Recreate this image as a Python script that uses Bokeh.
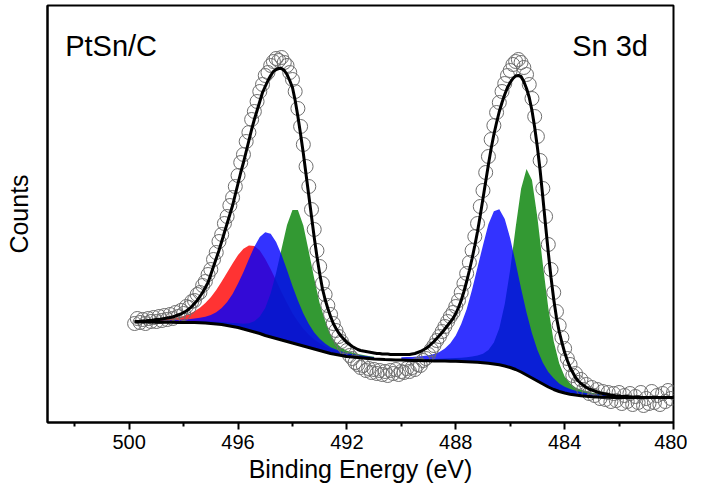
from bokeh.plotting import figure
from bokeh.models import Range1d, FixedTicker, Label
from bokeh.embed import file_html
from bokeh.resources import INLINE

# ---------------- data (binding energy in eV, intensity in arbitrary counts) ----------------
MAJOR_TICKS = [500, 496, 492, 488, 484, 480]
MINOR_TICKS = [502, 498, 494, 490, 486, 482]

# measured points grid (0.1 eV)
BE_FINE = [
    499.8, 499.7, 499.6, 499.5, 499.4, 499.3, 499.2, 499.1, 499.0, 498.9,
    498.8, 498.7, 498.6, 498.5, 498.4, 498.3, 498.2, 498.1, 498.0, 497.9,
    497.8, 497.7, 497.6, 497.5, 497.4, 497.3, 497.2, 497.1, 497.0, 496.9,
    496.8, 496.7, 496.6, 496.5, 496.4, 496.3, 496.2, 496.1, 496.0, 495.9,
    495.8, 495.7, 495.6, 495.5, 495.4, 495.3, 495.2, 495.1, 495.0, 494.9,
    494.8, 494.7, 494.6, 494.5, 494.4, 494.3, 494.2, 494.1, 494.0, 493.9,
    493.8, 493.7, 493.6, 493.5, 493.4, 493.3, 493.2, 493.1, 493.0, 492.9,
    492.8, 492.7, 492.6, 492.5, 492.4, 492.3, 492.2, 492.1, 492.0, 491.9,
    491.8, 491.7, 491.6, 491.5, 491.4, 491.3, 491.2, 491.1, 491.0, 490.9,
    490.8, 490.7, 490.6, 490.5, 490.4, 490.3, 490.2, 490.1, 490.0, 489.9,
    489.8, 489.7, 489.6, 489.5, 489.4, 489.3, 489.2, 489.1, 489.0, 488.9,
    488.8, 488.7, 488.6, 488.5, 488.4, 488.3, 488.2, 488.1, 488.0, 487.9,
    487.8, 487.7, 487.6, 487.5, 487.4, 487.3, 487.2, 487.1, 487.0, 486.9,
    486.8, 486.7, 486.6, 486.5, 486.4, 486.3, 486.2, 486.1, 486.0, 485.9,
    485.8, 485.7, 485.6, 485.5, 485.4, 485.3, 485.2, 485.1, 485.0, 484.9,
    484.8, 484.7, 484.6, 484.5, 484.4, 484.3, 484.2, 484.1, 484.0, 483.9,
    483.8, 483.7, 483.6, 483.5, 483.4, 483.3, 483.2, 483.1, 483.0, 482.9,
    482.8, 482.7, 482.6, 482.5, 482.4, 482.3, 482.2, 482.1, 482.0, 481.9,
    481.8, 481.7, 481.6, 481.5, 481.4, 481.3, 481.2, 481.1, 481.0, 480.9,
    480.8, 480.7, 480.6, 480.5, 480.4, 480.3, 480.2, 480.1, 480.0,
]

# raw data (open circles)
COUNTS = [
    99, 104, 100, 103, 99, 104, 101, 105, 101, 106,
    102, 107, 103, 108, 104, 110, 106, 112, 109, 116,
    115, 121, 122, 128, 130, 137, 141, 148, 153, 163,
    170, 181, 188, 199, 206, 217, 225, 236, 247, 260,
    268, 281, 290, 303, 311, 321, 331, 338, 347, 350,
    357, 361, 364, 362, 365, 360, 357, 350, 343, 331,
    314, 296, 278, 256, 236, 213, 193, 172, 156, 139,
    128, 117, 108, 99, 92, 86, 81, 76, 72, 67,
    64, 60, 58, 55, 57, 52, 54, 50, 53, 49,
    52, 48, 51, 47, 52, 49, 53, 48, 51, 50,
    54, 51, 55, 53, 58, 57, 62, 64, 68, 73,
    77, 82, 86, 91, 96, 101, 106, 110, 116, 122,
    130, 139, 149, 160, 172, 186, 199, 216, 232, 250,
    266, 283, 297, 310, 320, 331, 339, 347, 352, 358,
    361, 363, 360, 355, 348, 338, 324, 306, 286, 262,
    234, 206, 178, 153, 130, 111, 97, 85, 74, 64,
    58, 47, 49, 40, 43, 33, 38, 29, 35, 27,
    33, 24, 31, 23, 30, 21, 29, 22, 30, 19,
    27, 21, 29, 18, 26, 20, 30, 17, 24, 19,
    31, 20, 27, 18, 29, 21, 32, 24, 30,
]

# fitted envelope (black line)
ENVELOPE = [
    101, 101, 101, 101.5, 101.5, 102, 102, 102.5, 103, 103,
    103.5, 104, 104.5, 105, 105.5, 106.5, 107.5, 108.5, 110, 111.5,
    113.5, 116, 119, 122, 126, 130, 135, 140, 148, 156,
    164, 172, 181, 190, 199, 208, 217, 228, 239, 250,
    260, 271, 282, 293, 303, 312, 321, 330, 336, 342,
    347, 351, 353, 354, 354, 352, 348, 342, 335, 322,
    306, 288, 269, 248, 227, 206, 185, 166, 149, 134,
    123, 114, 106, 99, 94, 89.5, 86, 83, 80, 78,
    76, 74.5, 73, 72, 71.5, 71, 70.5, 70, 69.5, 69,
    69, 68.5, 68.5, 68.5, 68, 68, 68, 68, 68, 68,
    68, 68, 68.5, 69, 70, 71, 72.5, 74, 76, 78.5,
    81, 84, 87, 90, 93.5, 97, 100.5, 104, 109, 115,
    122, 131, 141, 152, 164, 177, 191, 207, 224, 241,
    258, 274, 288, 300, 311, 320, 328, 335, 340, 344,
    346.5, 347, 346, 341, 334, 325, 312, 295, 275, 252,
    225, 197, 170, 145, 123, 105, 91, 80, 70, 62,
    55, 50, 45, 41.5, 39, 37, 35, 33.5, 32.5, 31.5,
    30.5, 29.5, 29, 28.5, 28, 27.5, 27, 26.5, 26.5, 26,
    26, 26, 25.5, 25.5, 25.5, 25.5, 25, 25, 25, 25,
    25, 25, 25, 25, 25, 25, 25, 25, 25,
]

# background / component grid (0.2 eV)
BE_COARSE = [
    499.8, 499.6, 499.4, 499.2, 499.0, 498.8, 498.6, 498.4, 498.2, 498.0,
    497.8, 497.6, 497.4, 497.2, 497.0, 496.8, 496.6, 496.4, 496.2, 496.0,
    495.8, 495.6, 495.4, 495.2, 495.0, 494.8, 494.6, 494.4, 494.2, 494.0,
    493.8, 493.6, 493.4, 493.2, 493.0, 492.8, 492.6, 492.4, 492.2, 492.0,
    491.8, 491.6, 491.4, 491.2, 491.0, 490.8, 490.6, 490.4, 490.2, 490.0,
    489.8, 489.6, 489.4, 489.2, 489.0, 488.8, 488.6, 488.4, 488.2, 488.0,
    487.8, 487.6, 487.4, 487.2, 487.0, 486.8, 486.6, 486.4, 486.2, 486.0,
    485.8, 485.6, 485.4, 485.2, 485.0, 484.8, 484.6, 484.4, 484.2, 484.0,
    483.8, 483.6, 483.4, 483.2, 483.0, 482.8, 482.6, 482.4, 482.2, 482.0,
    481.8, 481.6, 481.4, 481.2, 481.0, 480.8, 480.6, 480.4, 480.2, 480.0,
]

# Shirley-type background
BACKGROUND = [
    100.5, 100.5, 100.4, 100.4, 100.3, 100.3, 100.2, 100.2, 100.1, 100.1,
    100, 100, 99.8, 99.5, 99, 98.5, 98, 97, 96, 95,
    93.5, 92, 90.5, 89, 87, 85.5, 84, 82.5, 81, 79.5,
    78, 76.5, 75, 73.5, 72, 70.5, 69, 68, 67, 66,
    65.5, 65, 64.5, 64, 63.5, 63.3, 63, 62.8, 62.6, 62.4,
    62.2, 62, 61.9, 61.8, 61.7, 61.6, 61.5, 61.4, 61.3, 61.2,
    61, 60.8, 60.5, 60.2, 59.8, 59.3, 58.6, 57.7, 56.5, 55,
    53, 50.5, 47.5, 44.5, 41.5, 38.5, 35.5, 33, 31, 29.5,
    28.3, 27.4, 26.7, 26.2, 25.8, 25.5, 25.3, 25.2, 25.1, 25,
    25, 25, 25, 25, 25, 25, 25, 25, 25, 25,
]

# Sn 3d3/2 components (499.0 -> 491.0 eV), heights above background
SN32_RED = [
    2.5, 2.9, 3.4, 4.0, 5.0, 6.4, 8.5, 11.2, 14.9, 20.0,
    26.3, 34.1, 43.0, 52.9, 63.0, 72.5, 80.2, 84.9, 85.9, 83.0,
    76.5, 67.7, 57.9, 47.8, 38.4, 29.8, 22.9, 17.2, 12.8, 9.5,
    7.3, 5.6, 4.6, 3.8, 3.1, 2.7, 2.4, 2.2, 2.0, 1.7, 1.6,
]
SN32_BLUE = [
    1.7, 1.8, 2.0, 2.2, 2.5, 2.9, 3.3, 4.0, 4.9, 6.3,
    8.4, 11.8, 16.6, 23.6, 32.4, 43.9, 57.1, 71.5, 85.3, 96.6,
    103.2, 103.2, 96.6, 85.3, 71.5, 57.1, 43.9, 32.4, 23.6, 16.6,
    11.8, 8.4, 6.3, 4.9, 4.0, 3.3, 2.9, 2.5, 2.2, 2.0, 1.8,
]
SN32_GREEN = [
    0.7, 0.8, 0.9, 1.0, 1.0, 1.1, 1.3, 1.4, 1.6, 1.7,
    2.0, 2.2, 2.5, 2.9, 3.5, 4.2, 5.3, 7.2, 10.7, 17.0,
    27.6, 43.8, 65.7, 91.3, 116.6, 132.9, 134.6, 120.4, 96.0, 70.4,
    47.3, 31.6, 18.8, 11.6, 7.8, 5.7, 4.4, 3.5, 3.0, 2.6, 2.3,
]
# Sn 3d5/2 components (490.0 -> 481.6 eV)
SN52_BLUE = [
    2.8, 3.2, 3.6, 4.0, 4.7, 5.5, 7.0, 9.1, 12.5, 17.9,
    25.9, 37.4, 52.4, 72.4, 95.0, 117.5, 139.0, 152.7, 155.5, 147.1,
    129.3, 106.7, 83.6, 62.4, 44.8, 31.0, 21.2, 15.1, 11.2, 8.0,
    6.2, 5.1, 4.4, 3.8, 3.3, 3.0, 2.7, 2.4, 2.2, 2.0,
    1.9, 1.7, 1.6,
]
SN52_GREEN = [
    1.1, 1.2, 1.3, 1.5, 1.6, 1.8, 2.0, 2.2, 2.5, 2.9,
    3.3, 3.8, 4.5, 5.4, 6.7, 9.0, 13.2, 21.5, 36.6, 62.1,
    97.9, 142.0, 183.2, 206.1, 198.1, 163.5, 119.6, 78.9, 48.0, 28.2,
    16.6, 11.0, 7.7, 6.0, 5.0, 4.0, 3.5, 3.1, 2.7, 2.3,
    2.1, 1.9, 1.7,
]

# ---------------- figure ----------------
FONT = "Liberation Sans"

p = figure(
    width=687, height=488,
    x_range=Range1d(503, 480), y_range=Range1d(0, 417),
    output_backend="svg", toolbar_location=None,
    min_border_left=47, min_border_right=14, min_border_top=5, min_border_bottom=66,
)
p.background_fill_color = "white"
p.border_fill_color = "white"
p.outline_line_color = "black"
p.outline_line_width = 2
p.xgrid.visible = False
p.ygrid.visible = False

# x axis
xa = p.xaxis[0]
xa.ticker = FixedTicker(ticks=MAJOR_TICKS, minor_ticks=MINOR_TICKS)
xa.axis_line_width = 2
xa.major_tick_line_width = 2
xa.minor_tick_line_width = 2
xa.major_tick_out = 7
xa.major_tick_in = 0
xa.minor_tick_out = 4
xa.minor_tick_in = 0
xa.major_label_text_font = FONT
xa.major_label_text_font_size = "20px"
xa.major_label_text_color = "black"
xa.major_label_standoff = 5
xa.axis_label = "Binding Energy (eV)"
xa.axis_label_text_font = FONT
xa.axis_label_text_font_size = "25px"
xa.axis_label_text_font_style = "normal"
xa.axis_label_text_color = "black"
xa.axis_label_standoff = 3

# y axis: label only
ya = p.yaxis[0]
ya.ticker = FixedTicker(ticks=[])
ya.major_tick_line_color = None
ya.minor_tick_line_color = None
ya.major_label_text_font_size = "0px"
ya.axis_line_width = 2
ya.axis_label = "Counts"
ya.axis_label_text_font = FONT
ya.axis_label_text_font_size = "25px"
ya.axis_label_text_font_style = "normal"
ya.axis_label_text_color = "black"
ya.axis_label_standoff = 15

# component fills stacked on the background
left_x = BE_COARSE[4:45]
left_bg = BACKGROUND[4:45]
right_x = BE_COARSE[49:92]
right_bg = BACKGROUND[49:92]


def top_of(base, comp):
    return [b + c for b, c in zip(base, comp)]


p.varea(x=left_x, y1=left_bg, y2=top_of(left_bg, SN32_RED), fill_color="#ff0000", fill_alpha=0.8)
p.varea(x=left_x, y1=left_bg, y2=top_of(left_bg, SN32_GREEN), fill_color="#008000", fill_alpha=0.8)
p.varea(x=left_x, y1=left_bg, y2=top_of(left_bg, SN32_BLUE), fill_color="#0000ff", fill_alpha=0.8)
p.varea(x=right_x, y1=right_bg, y2=top_of(right_bg, SN52_GREEN), fill_color="#008000", fill_alpha=0.8)
p.varea(x=right_x, y1=right_bg, y2=top_of(right_bg, SN52_BLUE), fill_color="#0000ff", fill_alpha=0.8)

# data points
p.scatter(BE_FINE, COUNTS, marker="circle", size=14, fill_color=None,
          line_color="#6e6e6e", line_width=1)

# background and envelope
p.line(BE_COARSE, BACKGROUND, line_color="black", line_width=3)
p.line(BE_FINE, ENVELOPE, line_color="black", line_width=3)

# corner labels
p.add_layout(Label(x=502.35, y=377, text="PtSn/C", text_font=FONT, text_font_size="29px",
                   text_align="left", text_baseline="alphabetic", text_color="black"))
p.add_layout(Label(x=480.94, y=377, text="Sn 3d", text_font=FONT, text_font_size="29px",
                   text_align="right", text_baseline="alphabetic", text_color="black"))

open("out.html", "w").write(file_html(p, INLINE))
